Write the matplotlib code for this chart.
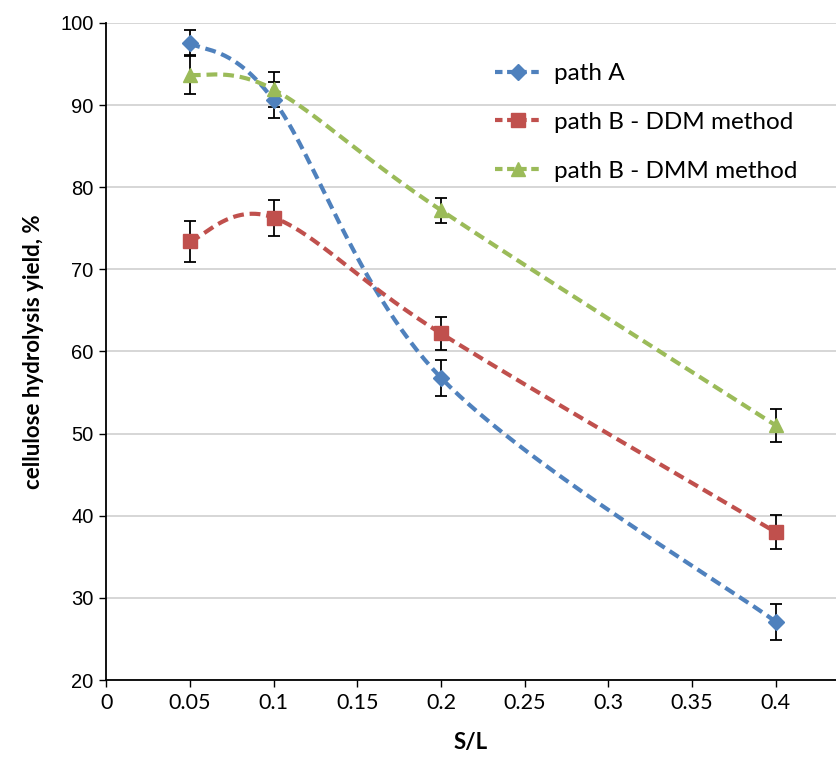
import numpy as np
import matplotlib
matplotlib.use("Agg")
import matplotlib.pyplot as plt
from matplotlib.lines import Line2D

# data
sl = [0.05, 0.1, 0.2, 0.4]
path_a = [97.6, 90.6, 56.8, 27.1]
path_a_err = [1.6, 2.2, 2.2, 2.2]
path_b_ddm = [73.4, 76.3, 62.2, 38.0]
path_b_ddm_err = [2.5, 2.2, 2.0, 2.1]
path_b_dmm = [93.7, 91.9, 77.2, 51.0]
path_b_dmm_err = [2.4, 2.1, 1.5, 2.0]

labels = ["path A", "path B - DDM method", "path B - DMM method"]
colors = ["#4F81BD", "#C0504D", "#9BBB59"]
markers = ["D", "s", "^"]
msizes = [8, 10, 10]


def smooth(xs, ys, n=60):
    # Excel-like smoothed line: Catmull-Rom segments as cubic Bezier
    p = np.column_stack([xs, ys]).astype(float)
    pts = [p[0]]
    for i in range(len(p) - 1):
        p0 = p[i - 1] if i > 0 else p[i]
        p1, p2 = p[i], p[i + 1]
        p3 = p[i + 2] if i + 2 < len(p) else p[i + 1]
        c1 = p1 + (p2 - p0) / 6.0
        c2 = p2 - (p3 - p1) / 6.0
        t = np.linspace(0, 1, n)[1:, None]
        seg = ((1 - t) ** 3) * p1 + 3 * ((1 - t) ** 2) * t * c1 \
            + 3 * (1 - t) * t ** 2 * c2 + t ** 3 * p2
        pts.extend(seg)
    pts = np.array(pts)
    return pts[:, 0], pts[:, 1]


fig = plt.figure(figsize=(8.36, 7.57), dpi=100)
ax = fig.add_axes([0.127, 0.1017, 0.873, 0.868])

series = [(path_a, path_a_err), (path_b_ddm, path_b_ddm_err), (path_b_dmm, path_b_dmm_err)]
handles = []
for (vals, errs), lab, c, m, ms in zip(series, labels, colors, markers, msizes):
    sx, sy = smooth(sl, vals)
    ax.plot(sx, sy, color=c, lw=3, dashes=(2.6, 1.4), dash_capstyle="butt", zorder=3)
    ax.errorbar(sl, vals, yerr=errs, fmt="none", ecolor="black", elinewidth=1.3,
                capsize=4, capthick=1.3, zorder=4)
    ax.plot(sl, vals, ls="none", marker=m, ms=ms, color=c, mec=c, zorder=5)
    handles.append(Line2D([], [], color=c, lw=3, dashes=(1.8, 1.1), marker=m,
                          ms=ms * 1.0, label=lab))

ax.set_xlim(0, 0.436)
ax.set_ylim(20, 100)
ax.set_xticks(np.arange(0, 0.41, 0.05))
ax.set_xticklabels(["0", "0.05", "0.1", "0.15", "0.2", "0.25", "0.3", "0.35", "0.4"],
                   fontfamily="Lato", fontsize=15.5)
ax.set_yticks(range(20, 101, 10))
ax.set_yticklabels([str(v) for v in range(20, 101, 10)],
                   fontfamily="Liberation Sans", fontsize=14.5)
ax.yaxis.grid(True, color="#D0D0D0", lw=1.2)
ax.set_axisbelow(True)
for s in ["top", "right"]:
    ax.spines[s].set_visible(False)
ax.spines["left"].set_linewidth(1.3)
ax.spines["bottom"].set_linewidth(1.3)
ax.tick_params(direction="out", length=5, width=1, pad=4)

ax.set_xlabel("S/L", fontfamily="Lato", fontweight="bold", fontsize=16, labelpad=14)
ax.set_ylabel("cellulose hydrolysis yield, %", fontfamily="Lato", fontweight="bold",
              fontsize=16, labelpad=12)

ax.legend(handles=handles, loc="upper left", bbox_to_anchor=(0.533, 0.939), frameon=False,
          prop={"family": "Lato", "size": 17.5}, handlelength=1.9, labelspacing=1.15,
          handletextpad=0.5, borderpad=0, borderaxespad=0)

fig.savefig("out.png", dpi=100)
